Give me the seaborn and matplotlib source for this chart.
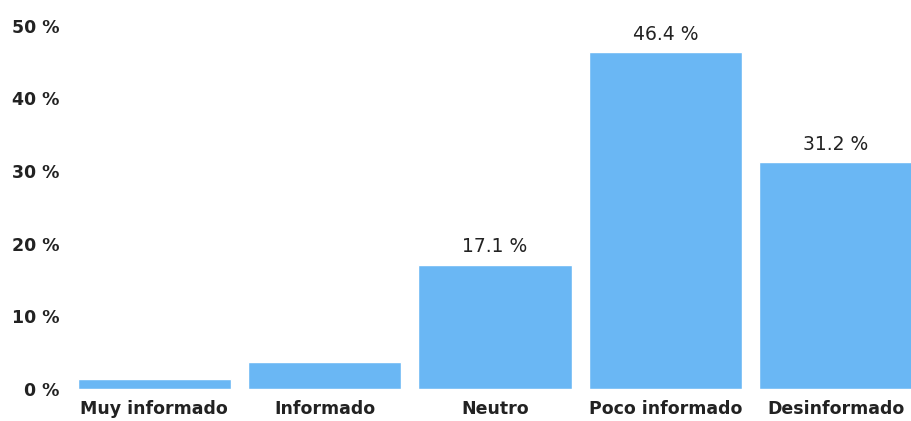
import matplotlib
matplotlib.use('Agg')
import matplotlib.pyplot as plt
import pandas as pd
import seaborn as sns

# Data
categories = ['Muy informado', 'Informado', 'Neutro', 'Poco informado', 'Desinformado']
percent = [1.4, 3.7, 17.1, 46.4, 31.2]
shown_labels = ['', '', '17.1 %', '46.4 %', '31.2 %']
y_ticks = [0, 10, 20, 30, 40, 50]

df = pd.DataFrame({'category': categories, 'percent': percent})

sns.set_theme(style='white')

fig = plt.figure(figsize=(9.12, 4.21), dpi=100)
ax = fig.add_axes([69 / 912, 32 / 421, 852 / 912, 385 / 421])

sns.barplot(data=df, x='category', y='percent', color='#6ab7f4',
            saturation=1, width=0.9, ax=ax)

ax.set_ylim(0, 53)
ax.set_yticks(y_ticks)
ax.set_yticklabels([f'{t} %' for t in y_ticks])
ax.set_xlabel('')
ax.set_ylabel('')
sns.despine(ax=ax, left=True, bottom=True)
ax.tick_params(axis='both', length=0)
ax.tick_params(axis='y', pad=7)
ax.tick_params(axis='x', pad=8)

for lab in ax.get_xticklabels() + ax.get_yticklabels():
    lab.set_fontfamily('DejaVu Sans')
    lab.set_fontweight('bold')
    lab.set_fontsize(12.5)
    lab.set_color('#222222')

# value labels above the three bigger bars
ax.bar_label(ax.containers[0], labels=shown_labels, padding=6,
             fontsize=13.5, family='DejaVu Sans', color='#222222')

fig.savefig('out.png', dpi=100, facecolor='white')
